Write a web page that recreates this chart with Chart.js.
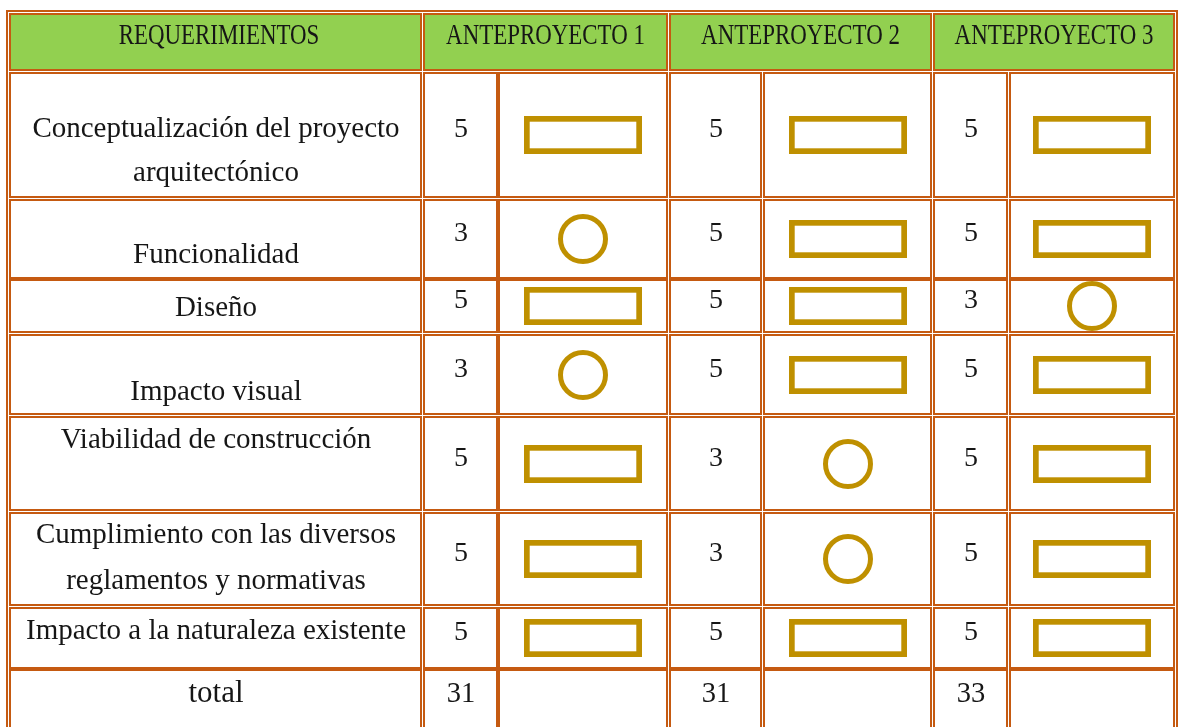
<!DOCTYPE html>
<html>
<head>
<meta charset="utf-8">
<script src="https://cdn.jsdelivr.net/npm/chart.js@4/dist/chart.umd.min.js"></script>
<style>
  html, body { margin: 0; padding: 0; background: #ffffff; }
  canvas { display: block; }
</style>
</head>
<body>
<canvas id="c" width="1178" height="727"></canvas>
<script>
// ---------- data ----------
const HEADER_REQ = 'REQUERIMIENTOS';
const PROJECTS = ['ANTEPROYECTO 1', 'ANTEPROYECTO 2', 'ANTEPROYECTO 3'];
const REQUIREMENTS = [
  'Conceptualización del proyecto\narquitectónico',
  'Funcionalidad',
  'Diseño',
  'Impacto visual',
  'Viabilidad de construcción',
  'Cumplimiento con las diversos\nreglamentos y normativas',
  'Impacto a la naturaleza existente'
];
const SCORES_A1 = [5, 3, 5, 3, 5, 5, 5];
const SCORES_A2 = [5, 5, 5, 5, 3, 3, 5];
const SCORES_A3 = [5, 5, 3, 5, 5, 5, 5];
const TOTAL_LABEL = 'total';
const TOTALS = [31, 31, 33];

// ---------- layout (table grid in canvas units) ----------
const W = 1178, H = 727;
const COL_EDGES = [8, 422, 498, 668, 762, 932, 1008, 1175];
const COL_GAPS  = [1, 1, 0, 1, 1, 1, 1, 1];
const ROW_EDGES = [12, 71, 198, 279, 333, 415, 511, 606, 669, 745];
const ROW_GAPS  = [1, 1, 1, 0, 1, 1, 1, 1, 0, 1];
// baseline offsets of requirement-label lines from the row's top edge
const LABEL_BASELINES = [[66, 110], [65], [36.5], [66.5], [33], [32, 78], [33], [33]];
const HEADER_BASELINE = 43.5;
const SCORE_SHIFT = -5;

const ORANGE = '#C55A11';
const GREEN = '#92D050';
const GOLD = '#BF9000';
const INK = '#161616';
const FONT = '"Liberation Serif", "DejaVu Serif", serif';

// rectangle mark image
const rectMark = document.createElement('canvas');
rectMark.width = 118; rectMark.height = 38;
(function () {
  const g = rectMark.getContext('2d');
  g.strokeStyle = GOLD; g.lineWidth = 5.7;
  g.strokeRect(2.85, 2.85, 118 - 5.7, 38 - 5.7);
})();

const ALL_SCORES = [SCORES_A1, SCORES_A2, SCORES_A3];

function colCenter(i) { return Math.round((COL_EDGES[i] + COL_GAPS[i] + COL_EDGES[i + 1]) / 2); }
function rowCenter(i) { return Math.round((ROW_EDGES[i] + ROW_GAPS[i] + ROW_EDGES[i + 1]) / 2); }

// Datasets: one per project, one point per requirement row (header is row 0)
const datasets = ALL_SCORES.map((scores, p) => ({
  label: PROJECTS[p],
  data: scores.map((s, r) => ({ x: colCenter(2 + p * 2), y: rowCenter(r + 1), score: s })),
  pointStyle: ctx => (ctx.raw && ctx.raw.score === 5) ? rectMark : 'circle',
  pointRadius: 22.5,
  pointBorderWidth: 5,
  pointBorderColor: GOLD,
  pointBackgroundColor: 'rgba(0,0,0,0)',
  showLine: false,
  clip: false
}));

function drawText(ctx, text, x, y, font, scaleX, baseline) {
  ctx.save();
  ctx.font = font;
  ctx.fillStyle = INK;
  ctx.textAlign = 'center';
  ctx.textBaseline = baseline || 'alphabetic';
  ctx.translate(x, y);
  ctx.scale(scaleX || 1, 1);
  ctx.fillText(text, 0, 0);
  ctx.restore();
}

const tablePlugin = {
  id: 'tablePlugin',
  beforeDatasetsDraw(chart) {
    const ctx = chart.ctx;
    const sx = chart.scales.x, sy = chart.scales.y;
    const px = v => Math.round(sx.getPixelForValue(v));
    const py = v => Math.round(sy.getPixelForValue(v));

    ctx.save();
    ctx.fillStyle = '#ffffff';
    ctx.fillRect(0, 0, chart.width, chart.height);

    // outer table border
    ctx.strokeStyle = ORANGE; ctx.lineWidth = 2;
    ctx.strokeRect(px(7), py(11), px(1177) - px(7), py(760) - py(11));

    function cell(c0, c1, r0, r1, fill) {
      const x0 = px(COL_EDGES[c0] + COL_GAPS[c0]);
      const x1 = px(COL_EDGES[c1]);
      const y0 = py(ROW_EDGES[r0] + ROW_GAPS[r0]);
      const y1 = py(ROW_EDGES[r1]);
      if (fill) { ctx.fillStyle = fill; ctx.fillRect(x0, y0, x1 - x0, y1 - y0); }
      ctx.strokeStyle = ORANGE; ctx.lineWidth = 2;
      ctx.strokeRect(x0 + 1, y0 + 1, x1 - x0 - 2, y1 - y0 - 2);
    }

    // header cells
    cell(0, 1, 0, 1, GREEN);
    for (let p = 0; p < 3; p++) cell(1 + p * 2, 3 + p * 2, 0, 1, GREEN);
    // body cells
    for (let r = 1; r < ROW_EDGES.length - 1; r++) {
      for (let c = 0; c < COL_EDGES.length - 1; c++) cell(c, c + 1, r, r + 1, '#ffffff');
    }

    // header text
    const hFont = '29px ' + FONT;
    drawText(ctx, HEADER_REQ, px(colCenter(0)) + 3, py(HEADER_BASELINE), hFont, 0.79);
    PROJECTS.forEach((t, p) => {
      const cx = (px(COL_EDGES[1 + p * 2] + 1) + px(COL_EDGES[3 + p * 2])) / 2;
      drawText(ctx, t, cx, py(HEADER_BASELINE), hFont, 0.79);
    });

    // requirement labels and scores
    const bFont = '29px ' + FONT;
    REQUIREMENTS.forEach((label, i) => {
      const lines = label.split('\n');
      lines.forEach((ln, k) => {
        drawText(ctx, ln, px(colCenter(0)), py(ROW_EDGES[i + 1] + LABEL_BASELINES[i][k]), bFont, 1);
      });
      ALL_SCORES.forEach((scores, p) => {
        drawText(ctx, String(scores[i]), px(colCenter(1 + p * 2)), py(rowCenter(i + 1) + SCORE_SHIFT), '28px ' + FONT, 1, 'middle');
      });
    });

    // total row
    const tr = REQUIREMENTS.length + 1;
    const tFont = '31px ' + FONT;
    drawText(ctx, TOTAL_LABEL, px(colCenter(0)), py(ROW_EDGES[tr] + LABEL_BASELINES[tr - 1][0]), tFont, 1);
    TOTALS.forEach((t, p) => {
      drawText(ctx, String(t), px(colCenter(1 + p * 2)), py(ROW_EDGES[tr] + LABEL_BASELINES[tr - 1][0]), '30px ' + FONT, 0.95);
    });
    ctx.restore();
  }
};

new Chart(document.getElementById('c'), {
  type: 'scatter',
  data: { datasets },
  options: {
    responsive: false,
    animation: false,
    devicePixelRatio: 1,
    events: [],
    layout: { padding: 0, autoPadding: false },
    plugins: { legend: { display: false }, tooltip: { enabled: false } },
    scales: {
      x: { type: 'linear', min: 0, max: W, display: false },
      y: { type: 'linear', min: 0, max: H, reverse: true, display: false }
    }
  },
  plugins: [tablePlugin]
});
</script>
</body>
</html>
